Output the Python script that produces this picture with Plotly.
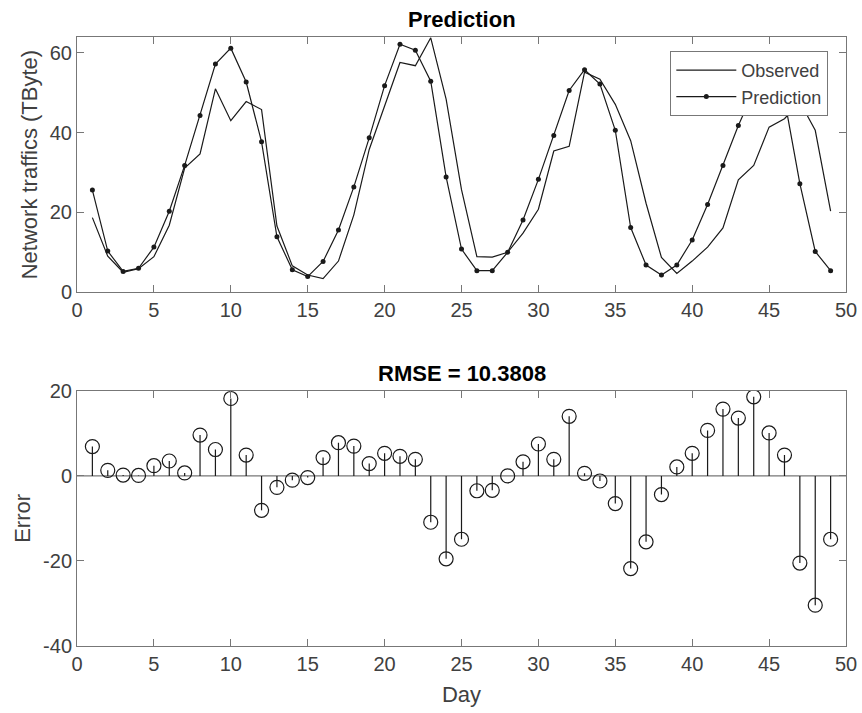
import plotly.graph_objects as go

days = list(range(1, 50))
observed = [18.7, 9.0, 5.0, 5.9, 8.9, 16.8, 31.1, 34.7, 51.0, 43.0,
            47.8, 45.8, 16.6, 6.6, 4.3, 3.4, 7.8, 19.4, 35.8, 46.5,
            57.6, 56.8, 63.8, 48.4, 25.7, 8.9, 8.8, 10.0, 14.8, 20.8,
            35.4, 36.6, 55.2, 53.4, 47.1, 38.0, 22.3, 8.7, 4.7, 7.8,
            11.3, 16.1, 28.2, 31.8, 41.4, 43.5, 47.7, 40.6, 20.3]
predicted = [25.6, 10.3, 5.2, 6.0, 11.3, 20.3, 31.8, 44.3, 57.2, 61.2,
             52.7, 37.7, 13.9, 5.6, 3.9, 7.7, 15.6, 26.4, 38.7, 51.8,
             62.2, 60.7, 52.9, 28.9, 10.8, 5.4, 5.4, 10.0, 18.1, 28.3,
             39.3, 50.6, 55.8, 52.2, 40.6, 16.2, 6.8, 4.3, 6.8, 13.1,
             22.0, 31.8, 41.8, 50.4, 51.5, 48.4, 27.2, 10.2, 5.4]
errors = [6.9, 1.3, 0.2, 0.1, 2.4, 3.5, 0.7, 9.6, 6.2, 18.2,
          4.9, -8.1, -2.7, -1.0, -0.4, 4.3, 7.8, 7.0, 2.9, 5.3,
          4.6, 3.9, -10.9, -19.5, -14.9, -3.5, -3.4, 0.0, 3.3, 7.5,
          3.9, 14.0, 0.6, -1.2, -6.5, -21.8, -15.5, -4.4, 2.1, 5.3,
          10.7, 15.7, 13.6, 18.6, 10.1, 4.9, -20.5, -30.4, -14.9]
x_ticks = [0, 5, 10, 15, 20, 25, 30, 35, 40, 45, 50]
top_yticks = [0, 20, 40, 60]
bot_yticks = [-40, -20, 0, 20]
bot_ytick_labels = ["-40", "-20", "0", "20"]
rmse_text = "RMSE = 10.3808"

FONT = "Liberation Sans, Arial, sans-serif"
AX = "#777777"
TXT = "#404040"
LINE = "#1a1a1a"

fig = go.Figure()

fig.add_trace(go.Scatter(x=days, y=observed, mode="lines", name="Observed",
                         line=dict(color=LINE, width=1.2),
                         xaxis="x", yaxis="y"))
fig.add_trace(go.Scatter(x=days, y=predicted, mode="lines+markers", name="Prediction",
                         line=dict(color=LINE, width=1.2),
                         marker=dict(color=LINE, size=5),
                         xaxis="x", yaxis="y"))

# baseline
fig.add_trace(go.Scatter(x=[0, 50], y=[0, 0], mode="lines", showlegend=False,
                         line=dict(color=AX, width=1.2), xaxis="x2", yaxis="y2",
                         hoverinfo="skip"))
# stems
sx, sy = [], []
for d, e in zip(days, errors):
    sx += [d, d, None]
    sy += [0, e, None]
fig.add_trace(go.Scatter(x=sx, y=sy, mode="lines", showlegend=False,
                         line=dict(color=LINE, width=1.2),
                         xaxis="x2", yaxis="y2"))
fig.add_trace(go.Scatter(x=days, y=errors, mode="markers", showlegend=False,
                         marker=dict(symbol="circle-open", size=14, color=LINE,
                                     line=dict(width=1.2)),
                         xaxis="x2", yaxis="y2"))

axis_common = dict(showline=True, linecolor=AX, linewidth=1, mirror="ticks",
                   ticks="inside", tickcolor=AX, ticklen=7, showgrid=False,
                   zeroline=False, automargin=False,
                   tickfont=dict(family=FONT, size=20, color=TXT))
title_font = dict(family=FONT, size=22, color=TXT)

fig.update_layout(
    width=862, height=713,
    paper_bgcolor="white", plot_bgcolor="white",
    margin=dict(l=77, r=16, t=37, b=67),
    font=dict(family=FONT, color=TXT),
    xaxis=dict(domain=[0, 1], range=[0, 50], tickvals=x_ticks, anchor="y", **axis_common),
    yaxis=dict(domain=[0.581, 1.0], range=[0, 64], tickvals=top_yticks, anchor="x",
               title=dict(text="Network traffics (TByte)", font=title_font, standoff=6),
               **axis_common),
    xaxis2=dict(domain=[0, 1], range=[0, 50], tickvals=x_ticks, anchor="y2",
                title=dict(text="Day", font=title_font, standoff=12),
                **axis_common),
    yaxis2=dict(domain=[0.0, 0.419], range=[-40, 20], tickvals=bot_yticks,
                ticktext=bot_ytick_labels, anchor="x2",
                title=dict(text="Error", font=title_font, standoff=6),
                **axis_common),
    legend=dict(x=0.977, y=0.977, xanchor="right", yanchor="top",
                bgcolor="white", bordercolor=AX, borderwidth=1,
                font=dict(family=FONT, size=18, color=TXT),
                tracegroupgap=0, itemwidth=60),
    annotations=[
        dict(text="<b>Prediction</b>", x=0.5, y=1.0, xref="paper", yref="paper",
             xanchor="center", yanchor="bottom", yshift=3, showarrow=False,
             font=dict(family=FONT, size=22, color="black")),
        dict(text="<b>" + rmse_text + "</b>", x=0.5, y=0.419, xref="paper", yref="paper",
             xanchor="center", yanchor="bottom", yshift=3, showarrow=False,
             font=dict(family=FONT, size=22, color="black")),
    ],
)

fig.write_html("out.html", config={"displayModeBar": False},
               post_script="document.body.style.margin='0px';document.body.style.overflow='hidden';")
